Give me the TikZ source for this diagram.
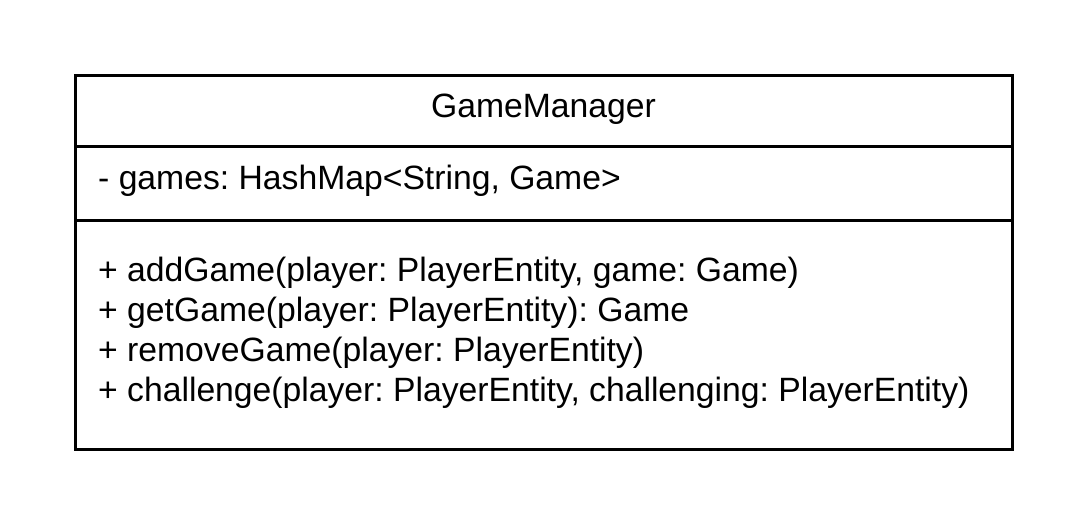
\documentclass[tikz,border=0pt]{standalone}
\usepackage{fontspec}
\setmainfont{Liberation Sans}
\frenchspacing
\begin{document}
\begin{tikzpicture}[x=1pt,y=-1pt,
  txt/.style={inner sep=0pt,anchor=base west,font=\fontsize{33.7}{40}\selectfont},
  ttl/.style={inner sep=0pt,anchor=base,font=\fontsize{33.7}{40}\selectfont},
  border/.style={draw=black,line width=3pt}]
\useasboundingbox (0,0) rectangle (1088,525);
\node[border,minimum width=937pt,minimum height=374pt,anchor=north west,inner sep=0pt,outer sep=0pt] (box) at (75,75) {};
\coordinate (l1a) at (75,146);
\coordinate (l1b) at (1012,146);
\coordinate (l2a) at (75,220);
\coordinate (l2b) at (1012,220);
\draw[border] (l1a) -- (l1b);
\draw[border] (l2a) -- (l2b);
\node[ttl] (title) at (543.5,117) {GameManager};
\node[txt] (attr) at (98,189) {- games: HashMap<String, Game>};
\node[txt] (m1) at (98,281) {+ addGame(player: PlayerEntity, game: Game)};
\node[txt] (m2) at (98,321) {+ getGame(player: PlayerEntity): Game};
\node[txt] (m3) at (98,361) {+ removeGame(player: PlayerEntity)};
\node[txt] (m4) at (98,401) {+ challenge(player: PlayerEntity, challenging: PlayerEntity)};
\end{tikzpicture}
\end{document}
